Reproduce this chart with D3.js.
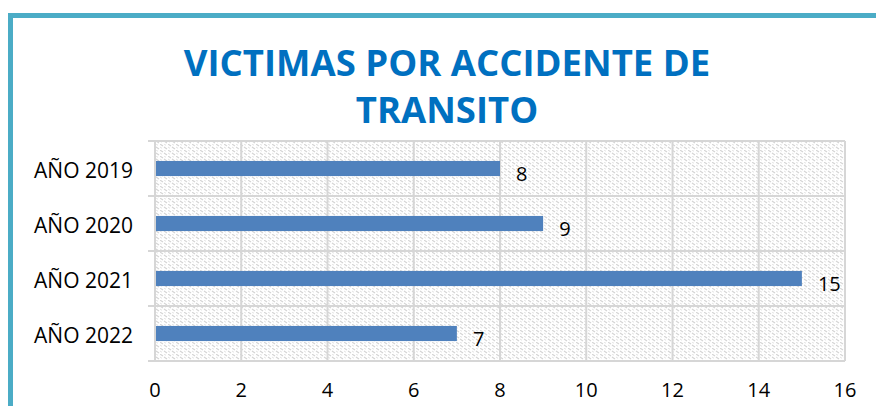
<!DOCTYPE html>
<html><head><meta charset="utf-8">
<script src="https://cdn.jsdelivr.net/npm/d3@7"></script>
<style>html,body{margin:0;padding:0;background:#fff;}svg{display:block;}</style>
</head><body>
<script>
const categories = ["AÑO 2019", "AÑO 2020", "AÑO 2021", "AÑO 2022"];
const values = [8, 9, 15, 7];
const xTicks = [0, 2, 4, 6, 8, 10, 12, 14, 16];
const titleLines = ["VICTIMAS POR ACCIDENTE DE", "TRANSITO"];

(function () {
const W = 876, H = 406;
const svg = d3.select("body").append("svg").attr("width", W).attr("height", H);

svg.append("rect").attr("x", 10.5).attr("y", 15.5).attr("width", 900).attr("height", 450)
  .attr("fill", "#fff").attr("stroke", "#4BACC6").attr("stroke-width", 5);

const defs = svg.append("defs");
const pat = defs.append("pattern").attr("id", "hatch").attr("patternUnits", "userSpaceOnUse")
  .attr("width", 8).attr("height", 6);
pat.append("rect").attr("width", 8).attr("height", 6).attr("fill", "#fff");
pat.append("path").attr("d", "M0,0 L3,2 M4,3 L7,5")
  .attr("stroke", "#d4d4d4").attr("stroke-width", 1.1).attr("fill", "none");
pat.append("path").attr("d", "M4,0 L6,1.3 M0,3 L2,4.3")
  .attr("stroke", "#e2e2e2").attr("stroke-width", 1).attr("fill", "none");

const pl = 155, pr = 845, pt = 141, pb = 361;
const x = d3.scaleLinear().domain([0, 16]).range([pl, pr]);
const y = d3.scaleBand().domain(categories).range([pt, pb]).padding(0);
const bh = y.bandwidth() * 0.275;

svg.append("rect").attr("x", pl).attr("y", pt).attr("width", pr - pl).attr("height", pb - pt)
  .attr("fill", "url(#hatch)");

const grid = "#d6d6d6";
svg.append("g").selectAll("line").data(xTicks).join("line")
  .attr("x1", d => x(d)).attr("x2", d => x(d)).attr("y1", pt).attr("y2", pb)
  .attr("stroke", grid).attr("stroke-width", 2);
const bounds = categories.map(c => y(c)).concat([pb]);
svg.append("g").selectAll("line").data(bounds).join("line")
  .attr("x1", pl - 7).attr("x2", pr).attr("y1", d => d).attr("y2", d => d)
  .attr("stroke", grid).attr("stroke-width", 2);

svg.append("g").selectAll("rect").data(values).join("rect")
  .attr("x", x(0) + 1).attr("y", (d, i) => y(categories[i]) + (y.bandwidth() - bh) / 2)
  .attr("width", d => x(d) - x(0) - 1).attr("height", bh)
  .attr("fill", "#4F81BD");

const font = "'Open Sans', sans-serif";
svg.append("g").selectAll("text").data(values).join("text")
  .attr("x", d => x(d) + 16).attr("y", (d, i) => y(categories[i]) + y.bandwidth() / 2 + 12)
  .attr("font-family", font).attr("font-size", 20).attr("fill", "#000")
  .text(d => d);

svg.append("g").selectAll("text").data(categories).join("text")
  .attr("x", 133).attr("y", d => y(d) + y.bandwidth() / 2 + 9)
  .attr("text-anchor", "end").attr("font-family", font).attr("font-size", 21).attr("fill", "#000")
  .text(d => d);

svg.append("g").selectAll("text").data(xTicks).join("text")
  .attr("x", d => x(d)).attr("y", 397)
  .attr("text-anchor", "middle").attr("font-family", font).attr("font-size", 20).attr("fill", "#000")
  .text(d => d);

svg.append("g").selectAll("text").data(titleLines).join("text")
  .attr("x", 447).attr("y", (d, i) => 76 + i * 47)
  .attr("text-anchor", "middle").attr("font-family", font).attr("font-weight", "bold")
  .attr("font-size", 36.5).attr("fill", "#0070C0")
  .text(d => d);
})();
</script>
</body></html>
